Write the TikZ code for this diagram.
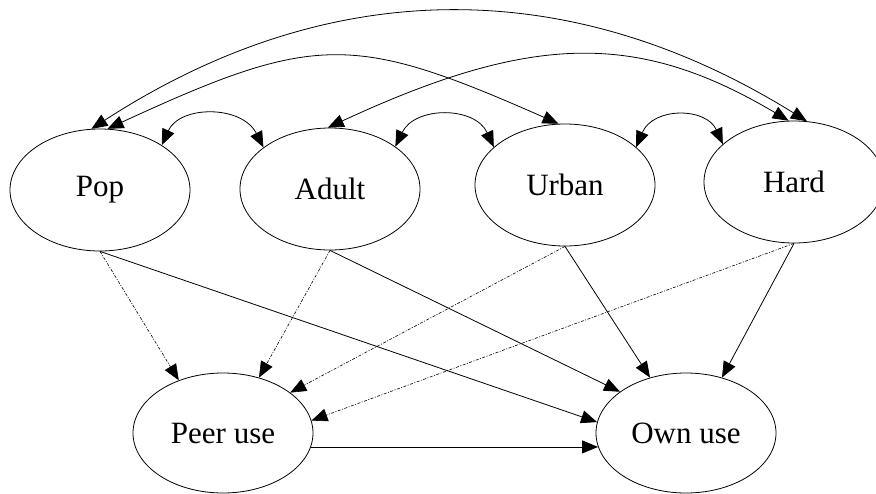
\documentclass[tikz,border=0pt]{standalone}
\usepackage{fontspec}
\setmainfont{Liberation Serif}
\usetikzlibrary{shapes.geometric,arrows.meta}

\begin{document}
\begin{tikzpicture}[x=1pt,y=1pt,yscale=-1,xscale=1,
		var/.style={ellipse,draw,line width=0.8pt,minimum width=180pt,minimum height=122pt,inner sep=0pt,font=\fontsize{31}{36}\selectfont},
		link/.style={line width=0.8pt,-{Triangle[length=16pt,width=13pt]}},
		biLink/.style={line width=0.8pt,{Triangle[length=16pt,width=13pt]}-{Triangle[length=16pt,width=13pt]}},
		peerLink/.style={line width=0.6pt,dash pattern=on 3pt off 1.5pt on 1pt off 1.5pt,-{Triangle[length=16pt,width=13pt]}}]
		\useasboundingbox (0,0) rectangle (876,493);
		
		% Shape: Ellipse
		\node [var] (pop) at (100,190) {Pop};
		% Shape: Ellipse
		\node [var] (adult) at (330,189) {Adult};
		% Shape: Ellipse
		\node [var] (urban) at (565,185) {Urban};
		% Shape: Ellipse
		\node [var] (hard) at (794,182) {Hard};
		% Shape: Ellipse
		\node [var,minimum height=120pt] (peer) at (223,433) {Peer use};
		% Shape: Ellipse
		\node [var,minimum height=120pt] (own) at (686,433) {Own use};
		
		% Connection
		\draw [biLink] (pop.98) .. controls (330,-26) and (570,-26) .. (hard.78);
		% Connection
		\draw [biLink] (pop.83) .. controls (315,33) and (353,33) .. (urban.96);
		% Connection
		\draw [biLink] (adult.92) .. controls (534,32) and (639,32) .. (hard.95);
		% Connection
		\draw [biLink] (pop.36) .. controls (180,105) and (242,105) .. (adult.148);
		% Connection
		\draw [biLink] (adult.33) .. controls (415,106) and (475,106) .. (urban.152);
		% Connection
		\draw [biLink] (urban.28) .. controls (653,107) and (706,107) .. (hard.152);
		
		% Connection
		\draw [peerLink] (pop.south) -- (peer.130);
		\draw [link] (pop.south) -- (own.173);
		% Connection
		\draw [peerLink] (adult.south) -- (peer.57);
		\draw [link] (adult.south) -- (own.148);
		% Connection
		\draw [peerLink] (urban.south) -- (peer.31);
		\draw [link] (urban.south) -- (own.123);
		% Connection
		\draw [peerLink] (hard.south) -- (peer.8);
		\draw [link] (hard.south) -- (own.57);
		% Connection
		\draw [link] (peer.-9.5) -- (own.189.5);
	\end{tikzpicture}
\end{document}
